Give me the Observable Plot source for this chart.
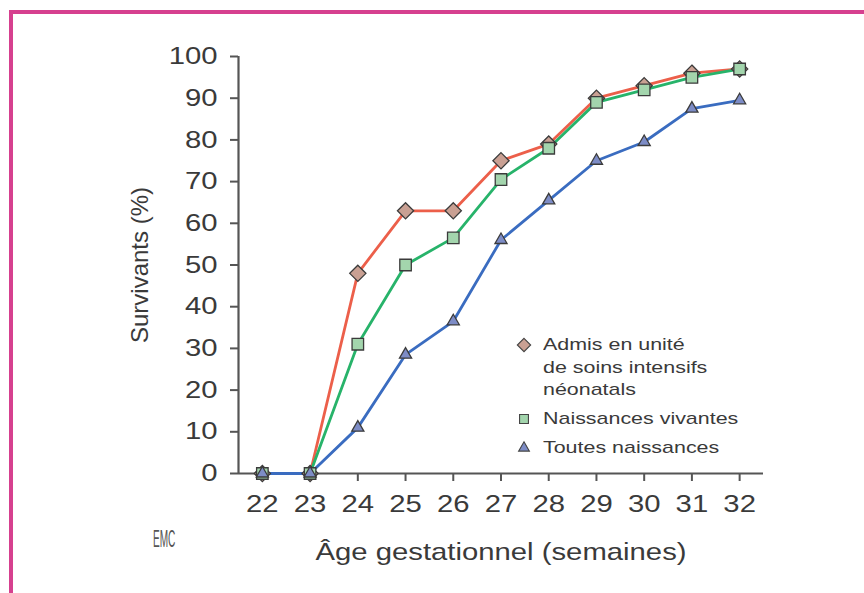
<!DOCTYPE html>
<html>
<head>
<meta charset="utf-8">
<script src="https://cdn.jsdelivr.net/npm/d3@7"></script>
<script src="https://cdn.jsdelivr.net/npm/@observablehq/plot@0.6"></script>
<style>
  html, body { margin: 0; padding: 0; background: #fff; }
  body { width: 864px; height: 593px; position: relative; overflow: hidden; font-family: "Liberation Sans", Arial, Helvetica, sans-serif; }
  #frame { position: absolute; left: 9px; top: 10px; width: 900px; height: 700px; border-left: 4px solid #d6408f; border-top: 4px solid #d6408f; box-sizing: border-box; }
  #chart { position: absolute; left: 0; top: 0; }
  #legend { position: absolute; left: 514px; top: 334px; font-size: 17px; color: #3a3a3a; line-height: 22.5px; }
  #legend .row { display: flex; align-items: flex-start; }
  #legend svg { width: 20px; height: 22px; flex: none; margin-right: 9px; }
  #legend .txt { transform: scaleX(1.26); transform-origin: left top; white-space: nowrap; }
  #emc { position: absolute; left: 153px; top: 525px; font-size: 24px; color: #555; transform: scaleX(0.42); transform-origin: left top; }
</style>
</head>
<body>
<div id="frame"></div>
<div id="chart"></div>
<div id="legend"></div>
<div id="emc">EMC</div>
<script>
// Data
const weeks = [22, 23, 24, 25, 26, 27, 28, 29, 30, 31, 32];
const admis = [0, 0, 48, 63, 63, 75, 79, 90, 93, 96, 97];
const vivantes = [0, 0, 31, 50, 56.5, 70.5, 78, 89, 92, 95, 97];
const toutes = [0, 0, 11, 28.5, 36.5, 56, 65.5, 75, 79.5, 87.5, 89.5];
const seriesNames = ["Admis en unité de soins intensifs néonatals", "Naissances vivantes", "Toutes naissances"];
const yTicks = [0, 10, 20, 30, 40, 50, 60, 70, 80, 90, 100];

const lineColors = ["#ec5f4a", "#27b36a", "#3a6cc0"];
const fillColors = ["#c9a093", "#a3d5ad", "#7d8cc6"];
const symbols = ["diamond2", "square", "triangle"];
const radii = [7.3, 6.5, 4.5];

const allSeries = [admis, vivantes, toutes];
const rows = allSeries.flatMap((vals, i) => weeks.map((w, j) => ({week: w, value: vals[j], series: seriesNames[i], idx: i})));

const lineMarks = allSeries.map((vals, i) =>
  Plot.line(rows.filter(d => d.idx === i), {x: "week", y: "value", stroke: lineColors[i], strokeWidth: 2.8})
);
const dotMarks = allSeries.map((vals, i) =>
  Plot.dot(rows.filter(d => d.idx === i), {x: "week", y: "value", symbol: () => symbols[i], r: radii[i], fill: fillColors[i], stroke: "#3b3b3b", strokeWidth: 1.3})
);

const chart = Plot.plot({
  width: 864,
  height: 593,
  marginLeft: 238,
  marginRight: 101,
  marginTop: 56,
  marginBottom: 120,
  style: {fontFamily: '"Liberation Sans", Arial, Helvetica, sans-serif', fontSize: "24px", color: "#3a3a3a", background: "transparent"},
  x: {domain: [21.5, 32.5]},
  y: {domain: [0, 100]},
  symbol: {type: "identity"},
  marks: [
    Plot.ruleX([21.5], {y1: 0, y2: 100, stroke: "#555", strokeWidth: 2.2}),
    Plot.ruleY([0], {stroke: "#555", strokeWidth: 2.2}),
    Plot.axisY(yTicks, {tickSize: 8, tickPadding: 13, stroke: "#555", strokeWidth: 2, fill: "#3a3a3a", fontSize: 24,
      label: "Survivants (%)", labelAnchor: "center", labelArrow: "none", labelOffset: 108}),
    Plot.axisX(weeks, {tickSize: 8, tickPadding: 13, stroke: "#555", strokeWidth: 2, fill: "#3a3a3a", fontSize: 24,
      tickFormat: d => String(d),
      label: "Âge gestationnel (semaines)", labelAnchor: "center", labelArrow: "none", labelOffset: 86}),
    ...lineMarks,
    ...dotMarks
  ]
});
document.getElementById("chart").appendChild(chart);

// The reference's horizontal text is widened; stretch glyphs horizontally around each text's anchor
const stretch = 1.22;
d3.select(chart).selectAll('g[aria-label="x-axis tick label"] text, g[aria-label="y-axis tick label"] text, g[aria-label="x-axis label"] text')
  .each(function() {
    const t = this.getAttribute("transform") || "";
    if (/translate/.test(t)) {
      this.setAttribute("transform", t + ` scale(${stretch},1)`);
    } else {
      const len = this.getComputedTextLength();
      this.setAttribute("textLength", (len * stretch).toFixed(2));
      this.setAttribute("lengthAdjust", "spacingAndGlyphs");
    }
  });

// Legend
const legendLines = [["Admis en unité", "de soins intensifs", "néonatals"], ["Naissances vivantes"], ["Toutes naissances"]];
const legend = d3.select("#legend");
legendLines.forEach((lines, i) => {
  const row = legend.append("div").attr("class", "row").style("margin-bottom", i === 0 ? "6px" : (i === 1 ? "7px" : "0"));
  const svg = row.append("svg").attr("viewBox", "-10 -11 20 22");
  const sym = {diamond2: d3.symbolDiamond2, square: d3.symbolSquare, triangle: d3.symbolTriangle}[symbols[i]];
  const r = [6, 5, 4][i];
  svg.append("path").attr("d", d3.symbol(sym, Math.PI * r * r)()).attr("fill", fillColors[i]).attr("stroke", "#444").attr("stroke-width", 1.1);
  row.append("div").attr("class", "txt").html(lines.join("<br>"));
});
</script>
</body>
</html>
